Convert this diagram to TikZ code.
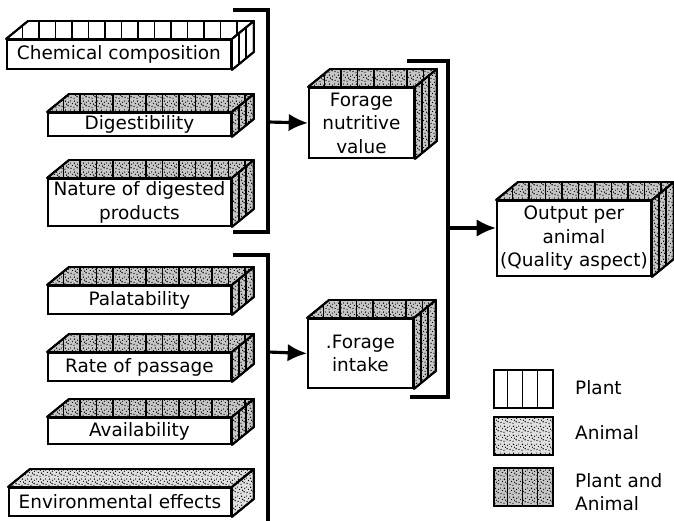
\documentclass[tikz,border=0pt]{standalone}
\usepackage{fontspec}
\setmainfont{DejaVu Sans}
\usepackage{tikz}
\usetikzlibrary{arrows.meta,patterns}

% irregular dots for the animal faces
\pgfdeclarepatternformonly{stipple}{\pgfqpoint{0pt}{0pt}}{\pgfqpoint{5pt}{5pt}}{\pgfqpoint{5pt}{5pt}}{%
  \pgfpathcircle{\pgfqpoint{0.6pt}{0.9pt}}{0.4pt}
  \pgfpathcircle{\pgfqpoint{2.3pt}{0.4pt}}{0.35pt}
  \pgfpathcircle{\pgfqpoint{4.1pt}{1.3pt}}{0.45pt}
  \pgfpathcircle{\pgfqpoint{1.4pt}{2.6pt}}{0.35pt}
  \pgfpathcircle{\pgfqpoint{3.2pt}{2.2pt}}{0.4pt}
  \pgfpathcircle{\pgfqpoint{0.3pt}{4.0pt}}{0.35pt}
  \pgfpathcircle{\pgfqpoint{2.6pt}{3.9pt}}{0.45pt}
  \pgfpathcircle{\pgfqpoint{4.4pt}{3.3pt}}{0.35pt}
  \pgfusepath{fill}}

% top and side of a box: node, face fill, divider style
\newcommand{\cuboid}[3]{%
  \draw[face,#2] (#1.north west) -- ++(22,-18) -- ([shift={(22,-18)}]#1.north east) -- (#1.north east) -- cycle;
  \draw[face,#2] (#1.north east) -- ++(22,-18) -- ([shift={(22,-18)}]#1.south east) -- (#1.south east) -- cycle;
  \begin{scope}
    \clip (#1.north west) -- ++(22,-18) -- ([shift={(22,-18)}]#1.north east) -- (#1.north east) -- cycle;
    \foreach \k in {1,...,15} \draw[#3] ([xshift=\k*0.33cm]#1.north west) -- ++(0,-20);
  \end{scope}
  \begin{scope}
    \clip (#1.north east) -- ++(22,-18) -- ([shift={(22,-18)}]#1.south east) -- (#1.south east) -- cycle;
    \draw[#3] ([shift={(7,-30)}]#1.north east) -- ([shift={(7,0)}]#1.south east);
    \draw[#3] ([shift={(14,-30)}]#1.north east) -- ([shift={(14,0)}]#1.south east);
  \end{scope}
  \draw[face] (#1.north west) -- ++(22,-18) -- ([shift={(22,-18)}]#1.north east) -- ([shift={(22,-18)}]#1.south east) -- (#1.south east);
  \draw[face] (#1.north east) -- ++(22,-18);
}

\begin{document}
\begin{tikzpicture}[x=0.02cm,y=-0.02cm,font=\fontsize{10.5}{13.4}\selectfont,>={Latex[length=11pt,width=10pt]}]
\tikzstyle{front}=[draw,line width=1.1pt,fill=white,align=center,inner sep=0pt,anchor=north west]
\tikzstyle{face}=[draw,line width=1.1pt,line join=round]
\tikzstyle{plant}=[fill=white]
\tikzstyle{animal}=[preaction={fill=gray!25},pattern=stipple]
\tikzstyle{both}=[preaction={fill=gray!45},pattern=stipple]
\tikzstyle{bars}=[draw,line width=0.7pt]
\tikzstyle{nobars}=[draw=none]
\tikzstyle{brace}=[line width=1.8pt]
\tikzstyle{key}=[draw,line width=1.1pt,minimum width=1.18cm,minimum height=0.76cm,anchor=north west,inner sep=0pt]
\useasboundingbox (0,0) rectangle (674,521);

% factors
\node[front,minimum width=4.48cm,minimum height=0.58cm] (chem) at (6,39) {Chemical composition};
\node[front,minimum width=3.66cm,minimum height=0.46cm] (dig) at (47,112) {Digestibility};
\node[front,minimum width=3.66cm,minimum height=0.94cm] (nature) at (47,178) {Nature of digested\\products};
\node[front,minimum width=3.66cm,minimum height=0.56cm] (pal) at (47,285) {Palatability};
\node[front,minimum width=3.66cm,minimum height=0.56cm] (rate) at (47,352) {Rate of passage};
\node[front,minimum width=3.66cm,minimum height=0.52cm] (avail) at (47,417) {Availability};
\node[front,minimum width=4.44cm,minimum height=0.56cm] (env) at (8,487) {Environmental effects};
% results
\node[front,minimum width=2.1cm,minimum height=1.4cm] (fnv) at (308,87) {Forage\\nutritive\\value};
\node[front,minimum width=2.1cm,minimum height=1.38cm] (fi) at (307,318) {.Forage\\intake};
\node[front,minimum width=3.08cm,minimum height=1.5cm] (out) at (496,200) {Output per\\animal\\(Quality aspect)};

\cuboid{chem}{plant}{bars}
\cuboid{dig}{both}{bars}
\cuboid{nature}{both}{bars}
\cuboid{pal}{both}{bars}
\cuboid{rate}{both}{bars}
\cuboid{avail}{both}{bars}
\cuboid{env}{animal}{nobars}
\cuboid{fnv}{both}{bars}
\cuboid{fi}{both}{bars}
\cuboid{out}{both}{bars}

% brackets
\coordinate (t1) at (233,10);
\coordinate (t2) at (268,232);
\coordinate (t3) at (233,232);
\coordinate (j1) at (268,122);
\coordinate (m1) at (233,255);
\coordinate (m2) at (268,521);
\coordinate (j2) at (268,352);
\coordinate (r1) at (407,61);
\coordinate (r2) at (448,397);
\coordinate (r3) at (410,397);
\coordinate (j3) at (448,228);
\draw[brace] (t1) -| (t2) -- (t3);
\draw[brace] (m1) -| (m2);
\draw[brace] (r1) -| (r2) -- (r3);
\draw[brace,->] (j1) -- (fnv.west);
\draw[brace,->] (j2) -- (fi.west);
\draw[brace,->] (j3) -- (j3 -| out.west);

% key
\node[key,plant] (kplant) at (493,369) {};
\node[key,animal] (kanimal) at (493,416) {};
\node[key,both] (kboth) at (493,467) {};
\foreach \k in {1,2,3} {
  \draw[bars] ([xshift=\k*0.295cm]kplant.north west) -- ([xshift=\k*0.295cm]kplant.south west);
  \draw[bars] ([xshift=\k*0.295cm]kboth.north west) -- ([xshift=\k*0.295cm]kboth.south west);
}
\node[anchor=west] (lplant) at (569,388) {Plant};
\node[anchor=west] (lanimal) at (569,433) {Animal};
\node[anchor=west,align=left] (lboth) at (569,492) {Plant and\\Animal};
\end{tikzpicture}
\end{document}
